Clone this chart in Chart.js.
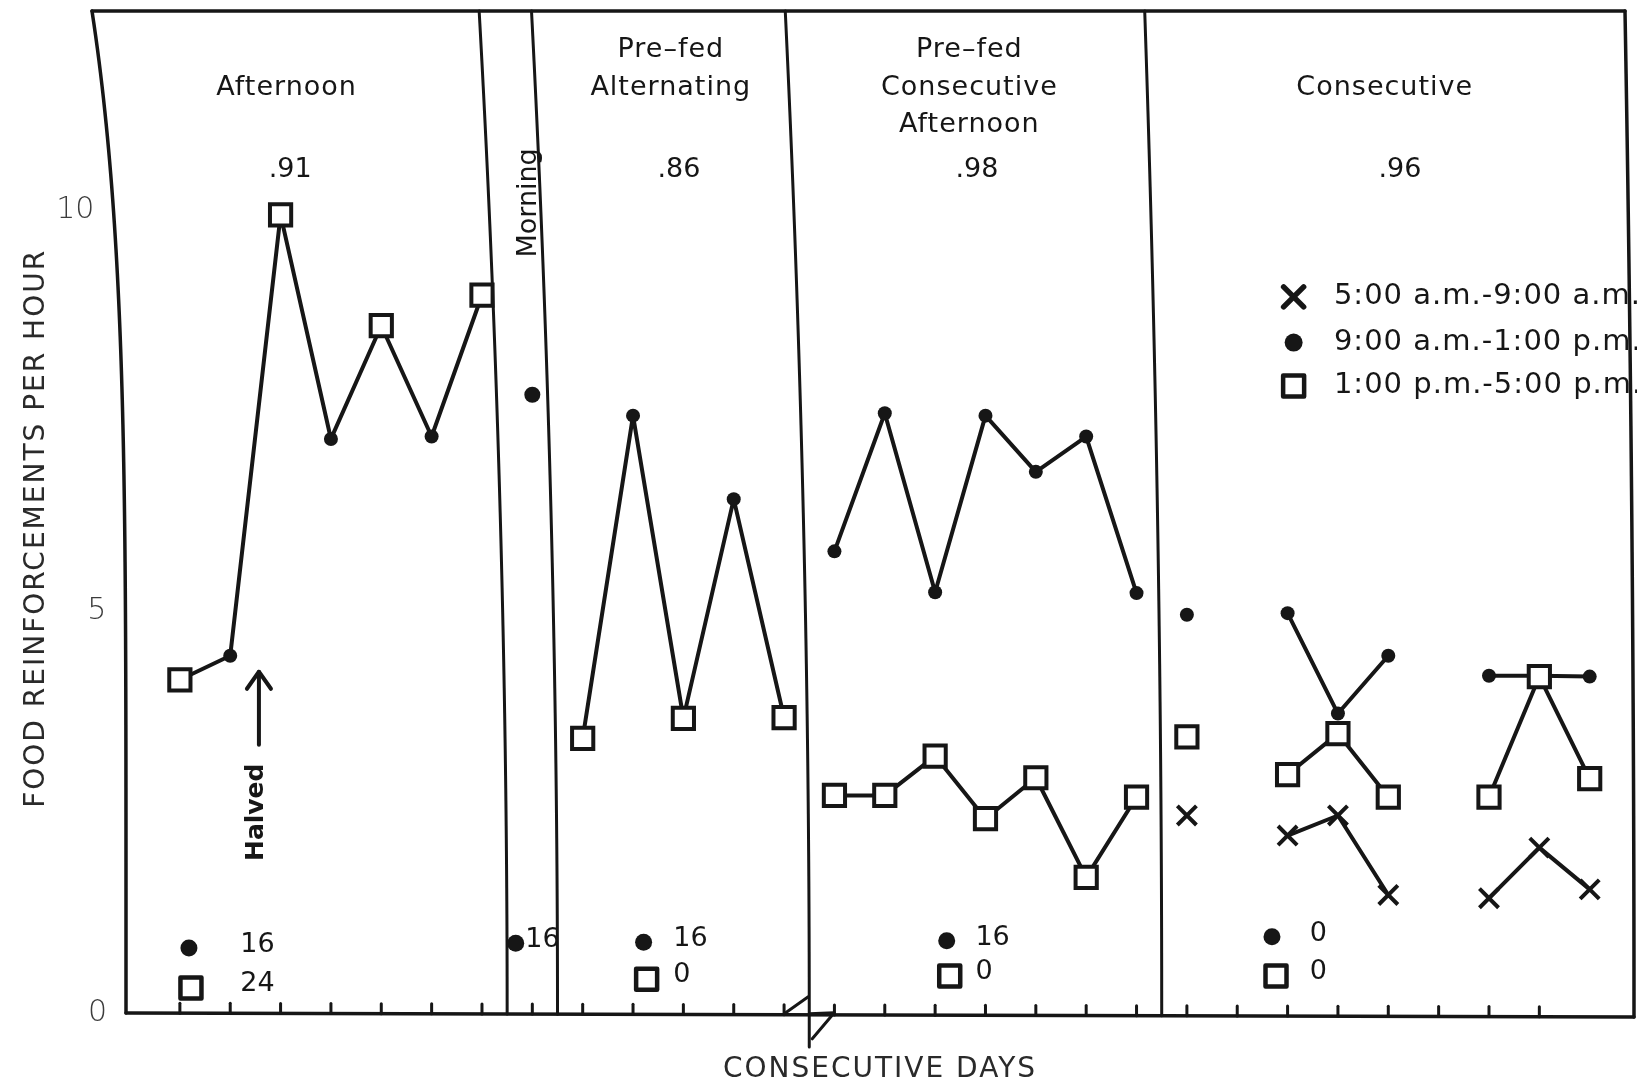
<!DOCTYPE html>
<html>
<head>
<meta charset="utf-8">
<script src="https://cdn.jsdelivr.net/npm/chart.js@4.4.1/dist/chart.umd.min.js"></script>
<style>
  html, body { margin: 0; padding: 0; background: #ffffff; overflow: hidden; }
  canvas { display: block; }
</style>
</head>
<body>
<canvas id="chart" width="1637" height="1087"></canvas>
<script>
// ---------------- DATA ----------------
// x = consecutive day index, y = food reinforcements per hour
const afternoonDays   = [0, 1, 2, 3, 4, 5, 6];
const afternoonRate   = [4.15, 4.45, 9.94, 7.15, 8.56, 7.18, 8.94];
const afternoonPeriod = ['pm', 'am', 'pm', 'am', 'pm', 'am', 'pm'];

const morningDays = [7];
const morningRate = [7.70];

const prefedAltDays   = [8, 9, 10, 11, 12];
const prefedAltRate   = [3.42, 7.44, 3.67, 6.40, 3.68];
const prefedAltPeriod = ['pm', 'am', 'pm', 'am', 'pm'];

const prefedConsecDays = [13, 14, 15, 16, 17, 18, 19];
const prefedConsecAm   = [5.75, 7.47, 5.24, 7.44, 6.74, 7.18, 5.23];
const prefedConsecPm   = [2.71, 2.71, 3.20, 2.42, 2.93, 1.69, 2.69];

const consecDays  = [20, 21, 22, 23, 24, 25, 26, 27, 28];
const consecEarly = [2.46, null, 2.21, 2.46, 1.47, null, 1.43, 2.06, 1.54];
const consecAm    = [4.96, null, 4.98, 3.73, 4.45, null, 4.20, 4.20, 4.19];
const consecPm    = [3.44, null, 2.97, 3.48, 2.69, null, 2.69, 4.19, 2.92];

const yTickValues = [0, 5, 10];

const panelTitles  = [['Afternoon'], ['Pre\u2013fed', 'Alternating'], ['Pre\u2013fed', 'Consecutive', 'Afternoon'], ['Consecutive']];
const panelIndices = ['.91', '.86', '.98', '.96'];
const countsAm     = ['16', '16', '16', '0'];
const countsPm     = ['24', '0', '0', '0'];
const morningTitle = 'Morning';
const morningCount = '16';
const halvedNote   = 'Halved';
const legendLabels = ['5:00 a.m.-9:00 a.m.', '9:00 a.m.-1:00 p.m.', '1:00 p.m.-5:00 p.m.'];
const legendPeriods = ['early', 'am', 'pm'];
const xTitle = 'CONSECUTIVE DAYS';
const yTitle = 'FOOD REINFORCEMENTS PER HOUR';

// ---------------- STYLE / LAYOUT ----------------
const INK = '#161616';
const FAMILY = '"DejaVu Sans", "Liberation Sans", sans-serif';

const layoutSpec = {
  separators: [ {at: 6.5, lean: -28}, {at: 7.5, lean: -26}, {at: 12.5, lean: -24, brk: true}, {at: 19.5, lean: -17} ],
  titles: [
    {x: 2.12, y: [11.52], ix: 2.19},
    {x: 9.75, y: [12.0, 11.52], ix: 9.91},
    {x: 15.68, y: [12.0, 11.52, 11.06], ix: 15.83},
    {x: 23.93, y: [11.52], ix: 24.23}
  ],
  indexY: 10.5,
  counts: [
    {dot: [0.18, 0.81], sq: [0.22, 0.31], tx: 1.2},
    {dot: [9.21, 0.88], sq: [9.27, 0.42], tx: 9.8},
    {dot: [15.23, 0.90], sq: [15.29, 0.46], tx: 15.8},
    {dot: [21.69, 0.95], sq: [21.77, 0.46], tx: 22.44}
  ],
  morning: {x: 6.93, y: 10.09, dot: [6.67, 0.87], tx: 6.86},
  halved: {x: 1.53, y: 2.5, ax: 1.57, ay0: 3.34, ay1: 4.25},
  legend: {mx: 22.12, tx: 22.92, ys: [8.92, 8.35, 7.81]}
};

function styleOf(p) { return p === 'pm' ? 'rect' : (p === 'am' ? 'circle' : 'crossRot'); }
function radiusOf(p) { return p === 'pm' ? 15 : (p === 'am' ? 7 : 13.5); }
function fillOf(p) { return p === 'pm' ? '#ffffff' : INK; }
function bwOf(p) { return p === 'am' ? 0 : 4; }

function makeSet(label, days, vals, periods, extra) {
  return Object.assign({
    label: label,
    data: days.map((d, i) => ({x: d, y: vals[i]})),
    borderColor: INK,
    borderWidth: 4,
    borderJoinStyle: 'round',
    borderCapStyle: 'round',
    tension: 0,
    fill: false,
    spanGaps: false,
    pointStyle: periods.map(styleOf),
    pointRadius: periods.map(radiusOf),
    pointBackgroundColor: periods.map(fillOf),
    pointBorderColor: INK,
    pointBorderWidth: periods.map(bwOf)
  }, extra || {});
}

const datasets = [
  makeSet('Afternoon', afternoonDays, afternoonRate, afternoonPeriod),
  makeSet('Pre-fed alternating', prefedAltDays, prefedAltRate, prefedAltPeriod),
  makeSet('Pre-fed consecutive 1-5 p.m.', prefedConsecDays, prefedConsecPm, prefedConsecDays.map(() => 'pm')),
  makeSet('Consecutive 1-5 p.m.', consecDays, consecPm, consecDays.map(() => 'pm')),
  makeSet('Morning', morningDays, morningRate, ['am'], {pointRadius: [8]}),
  makeSet('Pre-fed consecutive 9-1', prefedConsecDays, prefedConsecAm, prefedConsecDays.map(() => 'am')),
  makeSet('Consecutive 9-1', consecDays, consecAm, consecDays.map(() => 'am')),
  makeSet('Consecutive 5-9 a.m.', consecDays, consecEarly, consecDays.map(() => 'early'))
];

function marker(ctx, kind, px, py, big) {
  ctx.save();
  ctx.strokeStyle = INK; ctx.fillStyle = INK; ctx.lineJoin = 'round'; ctx.lineCap = 'round';
  if (kind === 'am') {
    ctx.beginPath(); ctx.arc(px, py, big ? 9 : 8.5, 0, Math.PI * 2); ctx.fill();
  } else if (kind === 'pm') {
    const h = 10.5;
    ctx.lineWidth = 4.5; ctx.fillStyle = '#fff';
    ctx.beginPath(); ctx.rect(px - h, py - h, 2 * h, 2 * h); ctx.fill(); ctx.stroke();
  } else {
    const h = 10;
    ctx.lineWidth = 5.5;
    ctx.beginPath(); ctx.moveTo(px - h, py - h); ctx.lineTo(px + h, py + h);
    ctx.moveTo(px + h, py - h); ctx.lineTo(px - h, py + h); ctx.stroke();
  }
  ctx.restore();
}

function label(ctx, str, px, py, o) {
  o = o || {};
  ctx.save();
  ctx.font = (o.weight || 'normal') + ' ' + (o.size || 27) + 'px ' + FAMILY;
  ctx.letterSpacing = o.spacing || '0px';
  ctx.fillStyle = o.color || INK;
  ctx.textAlign = o.align || 'center';
  ctx.textBaseline = 'middle';
  ctx.translate(px, py);
  if (o.rotate) ctx.rotate(o.rotate);
  ctx.fillText(str, 0, 0);
  ctx.restore();
}

const framePlugin = {
  id: 'frame',
  beforeDraw(chart) {
    const ctx = chart.ctx;
    ctx.save(); ctx.fillStyle = '#ffffff'; ctx.fillRect(0, 0, chart.width, chart.height); ctx.restore();
    ctx.letterSpacing = '2px';
  },
  beforeDatasetsDraw(chart) {
    const ctx = chart.ctx, ca = chart.chartArea, xs = chart.scales.x;
    const top = ca.top, bot = ca.bottom;
    const slope = 4;
    const baseAt = px => bot + slope * (px - ca.left) / (ca.right - ca.left);
    const curveX = (xb, off, p, yy) => xb + off * Math.pow(Math.max(0, (bot - yy) / (bot - top)), p);
    const drawCurve = (xb, off, p, w, extra) => {
      ctx.lineWidth = w; ctx.beginPath();
      for (let i = 0; i <= 80; i++) {
        const yy = top + (baseAt(xb) - top) * i / 80;
        const xx = curveX(xb, off, p, yy);
        if (i === 0) ctx.moveTo(xx, yy); else ctx.lineTo(xx, yy);
      }
      if (extra) ctx.lineTo(xb, bot + extra);
      ctx.stroke();
    };
    ctx.save();
    ctx.strokeStyle = INK; ctx.lineCap = 'round'; ctx.lineJoin = 'round';
    drawCurve(ca.left, -34, 4.5, 3.5, 0);
    drawCurve(ca.right, -9, 2, 3.5, 0);
    layoutSpec.separators.forEach(s => drawCurve(xs.getPixelForValue(s.at), s.lean, 2, 3, s.brk ? 34 : 0));
    ctx.lineWidth = 3.5;
    ctx.beginPath(); ctx.moveTo(ca.left - 34, top); ctx.lineTo(ca.right - 9, top); ctx.stroke();
    ctx.beginPath(); ctx.moveTo(ca.left, bot); ctx.lineTo(ca.right, bot + slope); ctx.stroke();
    ctx.lineWidth = 3;
    xs.ticks.forEach(t => {
      const px = xs.getPixelForValue(t.value), by = baseAt(px);
      ctx.beginPath(); ctx.moveTo(px, by); ctx.lineTo(px, by - 10); ctx.stroke();
    });
    // axis break mark
    const brk = layoutSpec.separators.find(s => s.brk);
    const bx = xs.getPixelForValue(brk.at), bb = baseAt(bx);
    ctx.lineWidth = 3;
    ctx.beginPath(); ctx.moveTo(bx - 25, bb - 1); ctx.lineTo(bx - 1, bb - 18); ctx.stroke();
    ctx.beginPath(); ctx.moveTo(bx, bb - 1); ctx.lineTo(bx + 25, bb - 2); ctx.lineTo(bx + 3, bb + 24); ctx.stroke();
    ctx.restore();
  },
  afterDraw(chart) {
    const ctx = chart.ctx, ca = chart.chartArea, xs = chart.scales.x, ys = chart.scales.y;
    const X = v => xs.getPixelForValue(v), Y = v => ys.getPixelForValue(v);
    const top = ca.top, bot = ca.bottom;
    const curveX = (xb, off, p, yy) => xb + off * Math.pow(Math.max(0, (bot - yy) / (bot - top)), p);
    // y tick labels following the curved axis
    ys.ticks.forEach(t => {
      const py = Y(t.value);
      label(ctx, String(t.value), curveX(ca.left, -34, 4.5, py) - 19, py, {align: 'right', size: 30, weight: '300', color: '#3c3c3c'});
    });
    // panel titles and indices
    layoutSpec.titles.forEach((p, i) => {
      panelTitles[i].forEach((line, j) => label(ctx, line, X(p.x), Y(p.y[j]), {size: 27, spacing: '1px'}));
      label(ctx, panelIndices[i], X(p.ix), Y(layoutSpec.indexY), {size: 27});
    });
    // session counts
    layoutSpec.counts.forEach((c, i) => {
      marker(ctx, 'am', X(c.dot[0]), Y(c.dot[1]));
      marker(ctx, 'pm', X(c.sq[0]), Y(c.sq[1]));
      label(ctx, countsAm[i], X(c.tx), Y(c.dot[1]) - 3, {align: 'left', size: 27});
      label(ctx, countsPm[i], X(c.tx), Y(c.sq[1]) - 4, {align: 'left', size: 27});
    });
    // morning panel
    const m = layoutSpec.morning;
    label(ctx, morningTitle, X(m.x), Y(m.y), {size: 27, rotate: -Math.PI / 2});
    marker(ctx, 'am', X(m.dot[0]), Y(m.dot[1]));
    label(ctx, morningCount, X(m.tx), Y(m.dot[1]) - 3, {align: 'left', size: 27});
    // halved annotation
    const h = layoutSpec.halved;
    label(ctx, halvedNote, X(h.x), Y(h.y), {size: 25, weight: 'bold', rotate: -Math.PI / 2});
    ctx.save();
    ctx.strokeStyle = INK; ctx.lineWidth = 4; ctx.lineCap = 'round'; ctx.lineJoin = 'round';
    const ax = X(h.ax), ay0 = Y(h.ay0), ay1 = Y(h.ay1);
    ctx.beginPath(); ctx.moveTo(ax, ay0); ctx.lineTo(ax, ay1); ctx.stroke();
    ctx.beginPath(); ctx.moveTo(ax - 12, ay1 + 17); ctx.lineTo(ax, ay1); ctx.lineTo(ax + 12, ay1 + 17); ctx.stroke();
    ctx.restore();
    // legend
    const lg = layoutSpec.legend;
    legendLabels.forEach((t, i) => {
      marker(ctx, legendPeriods[i], X(lg.mx), Y(lg.ys[i]), true);
      label(ctx, t, X(lg.tx), Y(lg.ys[i]), {align: 'left', size: 29, spacing: '1px'});
    });
  }
};

new Chart(document.getElementById('chart'), {
  type: 'line',
  data: { datasets: datasets },
  plugins: [framePlugin],
  options: {
    responsive: false,
    animation: false,
    events: [],
    layout: { autoPadding: false, padding: { top: 11, right: 3, left: 0, bottom: 0 } },
    plugins: { legend: { display: false }, tooltip: { enabled: false }, title: { display: false } },
    scales: {
      x: {
        type: 'linear', min: -1.07, max: 28.88,
        grid: { display: false }, border: { display: false },
        ticks: { display: false, stepSize: 1 },
        afterBuildTicks: a => { a.ticks = a.ticks.filter(t => Number.isInteger(t.value) && t.value >= 0); },
        afterFit: a => { a.height = 74; },
        title: { display: true, text: xTitle, color: '#2a2a2a', font: { family: FAMILY, size: 28 }, padding: { top: 0, bottom: 0 } }
      },
      y: {
        type: 'linear', min: 0, max: 12.48,
        grid: { display: false }, border: { display: false },
        ticks: { display: false, stepSize: 5 },
        afterBuildTicks: a => { a.ticks = yTickValues.map(v => ({ value: v })); },
        afterFit: a => { a.width = 126; },
        title: { display: true, text: yTitle + '   ', color: '#2a2a2a', font: { family: FAMILY, size: 28 }, padding: { top: 20, bottom: 0 } }
      }
    }
  }
});
</script>
</body>
</html>
